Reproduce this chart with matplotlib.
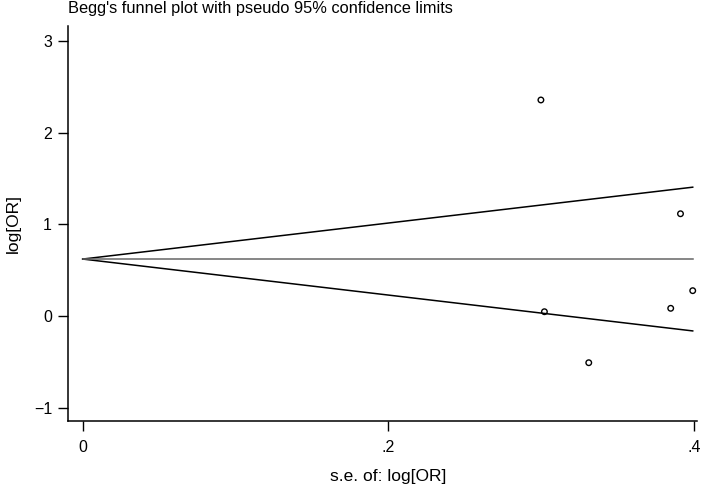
import matplotlib
matplotlib.use("Agg")
import matplotlib.pyplot as plt
import numpy as np

plt.rcParams['font.family'] = ['Liberation Sans', 'DejaVu Sans']

se = [0.2997, 0.391, 0.399, 0.3846, 0.302, 0.331]
logor = [2.354, 1.116, 0.279, 0.087, 0.050, -0.505]
center = 0.623
xticks = [0, 0.2, 0.4]
xticklabels = ['0', '.2', '.4']
yticks = [-1, 0, 1, 2, 3]
yticklabels = ['\u22121', '0', '1', '2', '3']

W, H = 709, 487
fig = plt.figure(figsize=(W/100, H/100), dpi=100)
ax_l, ax_r, ax_t, ax_b = 68.3, 697.0, 26.0, 420.7
ax = fig.add_axes([ax_l/W, 1-ax_b/H, (ax_r-ax_l)/W, (ax_b-ax_t)/H])

smax = max(se)
xs = np.array([0, smax])
ax.plot(xs, center + 1.96*xs, color='black', lw=1.1)
ax.plot(xs, center - 1.96*xs, color='black', lw=1.1)
ax.plot(xs, [center, center], color='#666666', lw=1.1)
ax.scatter(se, logor, s=16, facecolors='none', edgecolors='black', linewidths=1.0, zorder=3)

ax.set_xlim(-0.0094, 0.4018)
ax.set_ylim(-1.136, 3.159)
ax.set_xticks(xticks)
ax.set_xticklabels(xticklabels)
ax.set_yticks(yticks)
ax.set_yticklabels(yticklabels)
for s in ['top', 'right']:
    ax.spines[s].set_visible(False)
for s in ['left', 'bottom']:
    ax.spines[s].set_linewidth(1.1)
ax.tick_params(direction='out', length=7.2, width=1.0, labelsize=11.5)
ax.tick_params(axis='x', pad=6.5)
ax.tick_params(axis='y', pad=4.5)
ax.set_xlabel('s.e. of: log[OR]', fontsize=12.5)
ax.xaxis.set_label_coords((388-ax_l)/(ax_r-ax_l), -(477-ax_b)/(ax_b-ax_t))
ax.xaxis.label.set_va('center')
ax.set_ylabel('log[OR]', fontsize=12.5)
ax.yaxis.set_label_coords((13-ax_l)/(ax_r-ax_l), 0.5)
ax.yaxis.label.set_va('center')
fig.text(ax_l/W, 1-1.5/H, "Begg's funnel plot with pseudo 95% confidence limits", fontsize=11.8, va='top', ha='left')

fig.savefig('out.png', dpi=100)
